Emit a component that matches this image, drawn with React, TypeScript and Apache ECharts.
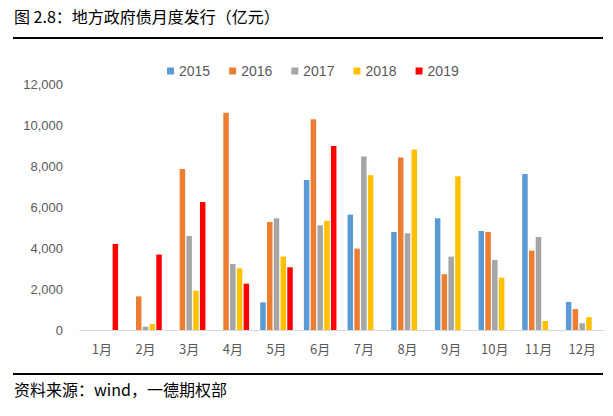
import React, { useEffect, useRef } from "react";
import * as echarts from "echarts";

const months = ["1月", "2月", "3月", "4月", "5月", "6月", "7月", "8月", "9月", "10月", "11月", "12月"];
const years = ["2015", "2016", "2017", "2018", "2019"];
const s2015 = [null, null, null, null, 1350, 7320, 5630, 4780, 5450, 4830, 7610, 1370];
const s2016 = [null, 1640, 7850, 10600, 5270, 10280, 3970, 8410, 2720, 4780, 3870, 1020];
const s2017 = [null, 160, 4590, 3220, 5450, 5110, 8460, 4720, 3580, 3420, 4540, 330];
const s2018 = [null, 290, 1920, 3010, 3580, 5330, 7550, 8800, 7500, 2550, 440, 630];
const s2019 = [4200, 3680, 6240, 2260, 3060, 8980, null, null, null, null, null, null];
const seriesData = [s2015, s2016, s2017, s2018, s2019];
const colors = ["#5B9BD5", "#ED7D31", "#A5A5A5", "#FFC000", "#FF0000"];
const titleText = "图 2.8：地方政府债月度发行（亿元）";
const sourceText = "资料来源：wind，一德期权部";

const FONT = "'Noto Sans CJK SC', 'Noto Sans', sans-serif";
const LATIN = "'Liberation Sans', 'Noto Sans', sans-serif";

export default function App() {
  const ref = useRef<HTMLDivElement>(null);
  useEffect(() => {
    if (!ref.current) return;
    const chart = echarts.init(ref.current, null, { renderer: "svg" });
    chart.setOption({
      animation: false,
      backgroundColor: "#ffffff",
      textStyle: { fontFamily: FONT },
      legend: {
        data: years,
        left: 162,
        top: 59,
        itemWidth: 7,
        itemHeight: 7,
        itemGap: 19,
        icon: "rect",
        textStyle: { color: "#595959", fontSize: 14, fontFamily: LATIN },
      },
      grid: { left: 80, right: 9, top: 84, bottom: 86, containLabel: false },
      xAxis: {
        type: "category",
        data: months,
        axisLine: { show: true, lineStyle: { color: "#D9D9D9", width: 1 } },
        axisTick: { show: false },
        axisLabel: { color: "#595959", fontSize: 13, margin: 12, fontFamily: FONT },
      },
      yAxis: {
        type: "value",
        min: 0,
        max: 12000,
        interval: 2000,
        splitLine: { show: false },
        axisLine: { show: false },
        axisTick: { show: false },
        axisLabel: {
          color: "#595959",
          fontSize: 13,
          margin: 17,
          fontFamily: LATIN,
          formatter: (v: number) => v.toLocaleString("en-US"),
        },
      },
      series: years.map((y, i) => ({
        name: y,
        type: "bar",
        data: seriesData[i],
        barWidth: 5.5,
        barGap: "23%",
        itemStyle: { color: colors[i] },
      })),
      graphic: [
        {
          type: "text",
          left: 14,
          top: 8,
          style: { text: titleText, fontSize: 16, fill: "#000000", fontFamily: FONT },
        },
        {
          type: "line",
          shape: { x1: 13, y1: 38, x2: 603, y2: 38 },
          style: { stroke: "#000000", lineWidth: 2 },
        },
        {
          type: "line",
          shape: { x1: 13, y1: 374, x2: 603, y2: 374 },
          style: { stroke: "#000000", lineWidth: 2 },
        },
        {
          type: "text",
          left: 14,
          top: 381,
          style: { text: sourceText, fontSize: 16, fill: "#000000", fontFamily: FONT },
        },
      ],
    });
    return () => chart.dispose();
  }, []);
  return <div ref={ref} style={{ position: "fixed", left: 0, top: 0, width: 613, height: 416 }} />;
}
